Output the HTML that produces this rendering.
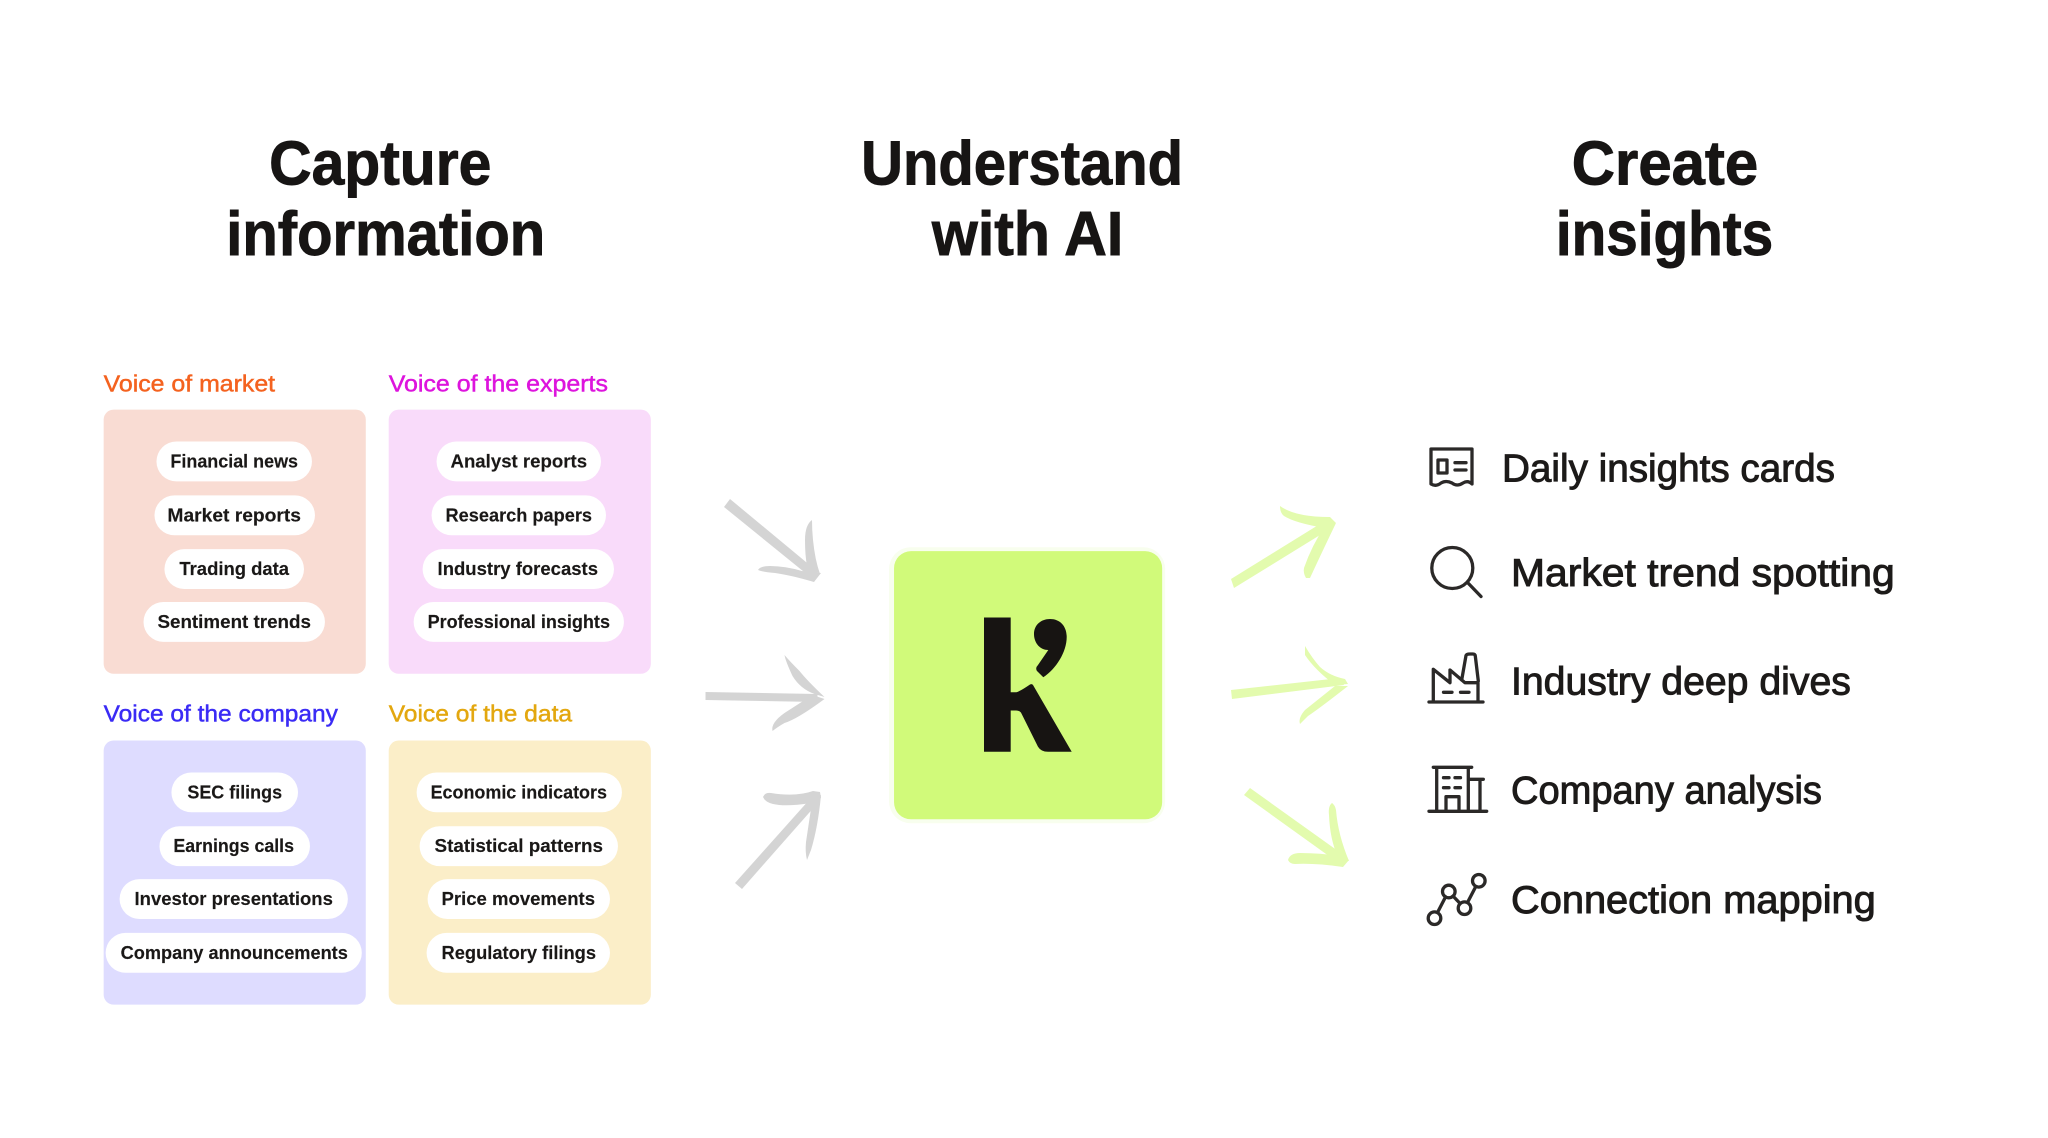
<!DOCTYPE html>
<html><head><meta charset="utf-8"><style>
html,body{margin:0;padding:0;background:#fff;width:2048px;height:1138px;overflow:hidden}
svg{display:block}
text{font-family:"Liberation Sans",sans-serif}
.t{font-size:62px;font-weight:700;fill:#171514;stroke:#171514;stroke-width:.9px}
.l{font-size:23px;font-weight:400;stroke-width:.45px}
.p{font-size:18.5px;font-weight:700;fill:#1a1817;stroke:#1a1817;stroke-width:.15px}
.r{font-size:39px;fill:#1c1a19;stroke:#1c1a19;stroke-width:.95px}
.i{fill:none;stroke:#2b2928;stroke-width:3.3;stroke-linecap:round;stroke-linejoin:round}
</style></head><body>
<svg width="2048" height="1138" viewBox="0 0 2048 1138" xmlns="http://www.w3.org/2000/svg">
<rect width="2048" height="1138" fill="#fff"/>
<g transform="scale(.9967)">
<text class="t" x="270" y="185" textLength="223" lengthAdjust="spacingAndGlyphs">Capture</text>
<text class="t" x="227" y="256" textLength="320" lengthAdjust="spacingAndGlyphs">information</text>
<text class="t" x="864" y="185" textLength="323" lengthAdjust="spacingAndGlyphs">Understand</text>
<text class="t" x="935" y="256" textLength="192" lengthAdjust="spacingAndGlyphs">with AI</text>
<text class="t" x="1577" y="185" textLength="187" lengthAdjust="spacingAndGlyphs">Create</text>
<text class="t" x="1561" y="256" textLength="218" lengthAdjust="spacingAndGlyphs">insights</text>

<text class="l" x="104" y="393" textLength="172" lengthAdjust="spacingAndGlyphs" fill="#f4621f" stroke="#f4621f">Voice of market</text>
<text class="l" x="390" y="393" textLength="220" lengthAdjust="spacingAndGlyphs" fill="#dd14dd" stroke="#dd14dd">Voice of the experts</text>
<text class="l" x="104" y="724" textLength="235" lengthAdjust="spacingAndGlyphs" fill="#3a2bf5" stroke="#3a2bf5">Voice of the company</text>
<text class="l" x="390" y="724" textLength="184" lengthAdjust="spacingAndGlyphs" fill="#e3a70f" stroke="#e3a70f">Voice of the data</text>

<rect x="104" y="411" width="263" height="265" rx="10" fill="#f9dcd3"/>
<rect x="390" y="411" width="263" height="265" rx="10" fill="#f9dbfa"/>
<rect x="104" y="743" width="263" height="265" rx="10" fill="#dedcff"/>
<rect x="390" y="743" width="263" height="265" rx="10" fill="#fbeec8"/>

<g fill="#fff">
<rect x="157" y="443" width="156" height="40" rx="20"/>
<rect x="155" y="497" width="161" height="40" rx="20"/>
<rect x="165" y="551" width="140" height="40" rx="20"/>
<rect x="144" y="604" width="182" height="40" rx="20"/>
<rect x="438" y="443" width="165" height="40" rx="20"/>
<rect x="433" y="497" width="175" height="40" rx="20"/>
<rect x="424" y="551" width="192" height="40" rx="20"/>
<rect x="415" y="604" width="211" height="40" rx="20"/>
<rect x="172" y="775" width="127" height="40" rx="20"/>
<rect x="160" y="829" width="151" height="40" rx="20"/>
<rect x="120" y="882" width="229" height="40" rx="20"/>
<rect x="106" y="936" width="257" height="40" rx="20"/>
<rect x="418" y="775" width="206" height="40" rx="20"/>
<rect x="421" y="829" width="199" height="40" rx="20"/>
<rect x="429" y="882" width="183" height="40" rx="20"/>
<rect x="428" y="936" width="184" height="40" rx="20"/>
</g>
<text class="p" x="171" y="469" textLength="128" lengthAdjust="spacingAndGlyphs">Financial news</text>
<text class="p" x="168" y="523" textLength="134" lengthAdjust="spacingAndGlyphs">Market reports</text>
<text class="p" x="180" y="577" textLength="110" lengthAdjust="spacingAndGlyphs">Trading data</text>
<text class="p" x="158" y="630" textLength="154" lengthAdjust="spacingAndGlyphs">Sentiment trends</text>
<text class="p" x="452" y="469" textLength="137" lengthAdjust="spacingAndGlyphs">Analyst reports</text>
<text class="p" x="447" y="523" textLength="147" lengthAdjust="spacingAndGlyphs">Research papers</text>
<text class="p" x="439" y="577" textLength="161" lengthAdjust="spacingAndGlyphs">Industry forecasts</text>
<text class="p" x="429" y="630" textLength="183" lengthAdjust="spacingAndGlyphs">Professional insights</text>
<text class="p" x="188" y="801" textLength="95" lengthAdjust="spacingAndGlyphs">SEC filings</text>
<text class="p" x="174" y="855" textLength="121" lengthAdjust="spacingAndGlyphs">Earnings calls</text>
<text class="p" x="135" y="908" textLength="199" lengthAdjust="spacingAndGlyphs">Investor presentations</text>
<text class="p" x="121" y="962" textLength="228" lengthAdjust="spacingAndGlyphs">Company announcements</text>
<text class="p" x="432" y="801" textLength="177" lengthAdjust="spacingAndGlyphs">Economic indicators</text>
<text class="p" x="436" y="855" textLength="169" lengthAdjust="spacingAndGlyphs">Statistical patterns</text>
<text class="p" x="443" y="908" textLength="154" lengthAdjust="spacingAndGlyphs">Price movements</text>
<text class="p" x="443" y="962" textLength="155" lengthAdjust="spacingAndGlyphs">Regulatory filings</text>

<rect x="892" y="549" width="277" height="277" rx="22" fill="#f3fde0" opacity=".55"/>
<rect x="897" y="553" width="269" height="269" rx="17" fill="#d1fa7a"/>

<text class="r" x="1507" y="483" textLength="334" lengthAdjust="spacingAndGlyphs">Daily insights cards</text>
<text class="r" x="1516" y="588" textLength="385" lengthAdjust="spacingAndGlyphs">Market trend spotting</text>
<text class="r" x="1516" y="697" textLength="341" lengthAdjust="spacingAndGlyphs">Industry deep dives</text>
<text class="r" x="1516" y="806" textLength="312" lengthAdjust="spacingAndGlyphs">Company analysis</text>
<text class="r" x="1516" y="916" textLength="366" lengthAdjust="spacingAndGlyphs">Connection mapping</text>
</g>

<!-- logo -->
<path fill="#171412" d="M984 617.5H1010.7V692.3H1016Q1019 692 1030 684.5Q1032 683.5 1033 685L1071.7 751.7H1048Q1041 751.7 1038 746.7L1021.7 714Q1020.5 710.5 1016 710.5H1010.7V751.7H984Z"/>
<path fill="#171412" d="M1050 619C1060 619 1066.7 626 1066.7 637C1066.7 652 1056 669 1043.3 677.3L1037 671Q1035 668 1038 665L1048.3 650C1040 650 1034 643 1034 634C1034 625 1041 619 1050 619Z"/>

<!-- gray arrows -->
<g fill="#d4d4d4">
<path d="M724 507L730 499L818 572L814 580Z"/>
<path d="M812 520Q805 525 805 540Q805 555 807 566L820 574Q815 560 813 540Q812 530 812 520Z"/>
<path d="M758 570Q760 566 770 566Q785 566 802 571L821 573L814 582Q790 575 775 573Q762 572 758 570Z"/>
<g transform="translate(2.5,1)">
<path d="M703 691L815 693L815 701L703 699Z"/>
<path d="M782 654Q783 660 790 675Q798 688 812 693L822 696Q805 680 797 670Q787 660 782 654Z"/>
<path d="M770 730Q768 722 782 712L810 694L822 698Q795 718 782 722Q775 726 770 730Z"/>
</g>
<g transform="translate(1,2)">
<path d="M734 881L809 797L815 803L741 887Z"/>
<path d="M762 795Q764 790 770 791Q795 795 812 789L819 790L820 796L810 801Q785 805 772 802Q764 800 762 795Z"/>
<path d="M806 858Q804 850 805 840L811 800L820 793Q817 825 810 848Z"/>
</g>
</g>

<!-- green arrows -->
<g fill="#e3fbae">
<path d="M1231 579L1328 519L1333 527L1234 588Z"/>
<path d="M1280 506Q1295 517 1330 517L1336 523L1325 528Q1295 523 1284 516Q1280 513 1280 506Z"/>
<path d="M1306 578Q1303 573 1304 568Q1312 545 1325 526L1336 523Q1322 552 1310 578Z"/>
<path d="M1231 690L1340 678L1344 685L1232 699Z"/>
<path d="M1305 646Q1312 658 1320 667Q1330 676 1345 679L1348 684L1335 685Q1315 670 1305 655Z"/>
<path d="M1300 724Q1298 718 1305 710L1335 686L1348 686Q1320 708 1308 716Z"/>
<path d="M1244 795L1250 788L1345 856L1340 864Z"/>
<path d="M1332 803Q1328 806 1329 815Q1330 840 1338 857L1349 861Q1338 835 1336 810Q1335 805 1332 803Z"/>
<path d="M1288 860Q1290 853 1300 853Q1320 853 1340 856L1349 860L1343 867Q1315 863 1295 864Q1290 864 1288 860Z"/>
</g>

<!-- icons -->
<g class="i">
<path d="M1431 484V449H1472V484Q1468 480 1463 483Q1457 487 1452 483Q1446 480 1441 483Q1436 487 1431 484Z"/>
<rect x="1438" y="460" width="9" height="13"/>
<path d="M1455 462.7H1466M1455 470H1466"/>
<circle cx="1452.3" cy="568" r="20.5"/>
<path d="M1468 583L1481 596.5"/>
<path d="M1429 702H1483M1433.3 702V669.3L1450 682.7V670L1465 682.7H1478V702M1461.7 680L1466 655.5Q1466.5 654 1470 654H1473Q1475 654 1475.3 656L1478.3 681"/>
<path d="M1443.5 692.3H1452M1460.5 692.3H1469"/>
<path d="M1429 811.3H1486.7M1433.3 767.3H1471.7M1436.7 767.3V811.3M1468.3 767.3V811.3M1469 779.3H1483.3M1480 779.3V811.3M1446 811.3V796.7H1459V811.3M1443.5 777.7H1449M1455 777.7H1460.5M1443.5 787.7H1449M1455 787.7H1460.5"/>
<g transform="translate(.5,1.5)">
<circle cx="1434" cy="916.7" r="6.3"/><circle cx="1448.3" cy="890" r="6.3"/><circle cx="1464" cy="906.7" r="6.3"/><circle cx="1478.3" cy="879.3" r="6.3"/>
<path d="M1437 911L1445 895.5M1452.6 894.6L1459.6 902M1467 901L1475.3 885"/>
</g>
</g>
</svg>
</body></html>
